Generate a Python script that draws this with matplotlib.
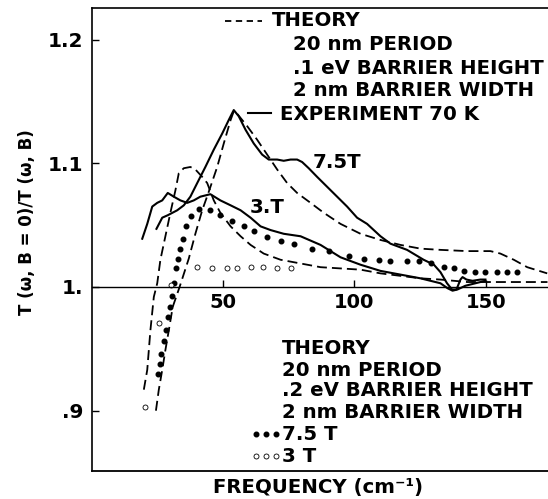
import matplotlib
matplotlib.use("Agg")
import matplotlib.pyplot as plt
from matplotlib.lines import Line2D

plt.rcParams['font.family'] = ['DejaVu Sans']
plt.rcParams['font.weight'] = 'bold'

# ---------------- data ----------------
# Experiment, 7.5 T (solid)
exp75_x = [24.7, 26.9, 29.0, 32.6, 35.1, 37.6, 40.2, 43.3, 46.5, 49.7, 52.2, 54.1,
           56.0, 58.6, 61.7, 64.9, 67.4, 70.6, 73.1, 75.7, 78.2, 80.1, 82.6, 85.8,
           89.6, 93.4, 97.2, 101.0, 104.8, 109.9, 113.7, 120.0, 126.3, 130.2, 132.7,
           135.2, 137.1, 138.8, 140.3, 141.1, 142.6, 144.9, 147.9, 149.8]
exp75_y = [1.047, 1.056, 1.058, 1.062, 1.066, 1.073, 1.084, 1.097, 1.111, 1.124, 1.135, 1.143,
           1.138, 1.127, 1.116, 1.107, 1.103, 1.103, 1.102, 1.103, 1.103, 1.101, 1.096, 1.089,
           1.081, 1.073, 1.065, 1.056, 1.051, 1.041, 1.035, 1.030, 1.022, 1.018, 1.012,
           1.003, 0.998, 0.998, 1.006, 1.008, 1.006, 1.005, 1.006, 1.006]

# Experiment, 3 T (solid)
exp3_x = [19.3, 21.2, 23.1, 25.0, 26.9, 29.0, 31.3, 33.8, 36.4, 38.9, 41.4, 45.2,
          49.0, 52.9, 56.7, 60.5, 64.3, 68.1, 73.1, 79.5, 87.1, 94.7, 102.3, 109.9,
          117.5, 125.1, 132.7, 135.4, 137.3, 139.2, 142.2, 146.0, 149.8]
exp3_y = [1.039, 1.051, 1.065, 1.068, 1.070, 1.076, 1.073, 1.070, 1.068, 1.070, 1.073, 1.075,
          1.070, 1.066, 1.062, 1.056, 1.049, 1.046, 1.043, 1.041, 1.034, 1.024, 1.018, 1.013,
          1.010, 1.007, 1.003, 0.999, 0.997, 0.998, 1.001, 1.003, 1.005]

# Theory 0.1 eV, 7.5 T (dashed)
th75_x = [24.5, 25.6, 26.9, 28.1, 29.4, 30.9, 33.5, 37.0, 39.5, 42.1, 44.6, 47.8,
          50.3, 52.9, 54.1, 55.4, 59.2, 63.0, 66.8, 70.6, 74.4, 78.2, 83.3, 88.3,
          94.7, 102.3, 109.9, 117.5, 125.1, 132.7, 142.9, 151.7, 155.5, 160.6, 165.7, 173.3]
th75_y = [0.900, 0.917, 0.933, 0.949, 0.965, 0.984, 1.000, 1.023, 1.043, 1.062, 1.077, 1.097,
          1.116, 1.135, 1.142, 1.140, 1.130, 1.119, 1.107, 1.095, 1.084, 1.076, 1.068, 1.060,
          1.051, 1.043, 1.038, 1.034, 1.031, 1.030, 1.029, 1.029, 1.027, 1.022, 1.016, 1.011]

# Theory 0.1 eV, 3 T (dashed)
th3_x = [19.9, 21.2, 22.4, 23.7, 25.0, 26.2, 28.1, 30.0, 31.9, 33.2, 35.1, 37.6,
         39.5, 42.1, 44.0, 46.5, 49.0, 52.9, 56.7, 60.5, 65.5, 71.9, 79.5, 87.1,
         94.7, 102.3, 109.9, 117.5, 125.1, 132.7, 142.9, 155.5, 173.4]
th3_y = [0.917, 0.933, 0.965, 0.992, 1.003, 1.022, 1.041, 1.060, 1.078, 1.092, 1.096, 1.097,
         1.095, 1.089, 1.084, 1.070, 1.060, 1.049, 1.041, 1.034, 1.027, 1.022, 1.019, 1.016,
         1.015, 1.014, 1.011, 1.009, 1.007, 1.006, 1.004, 1.004, 1.004]

# Theory 0.2 eV, 7.5 T (filled dots)
dot75_x = [25.2, 25.9, 26.6, 27.5, 28.3, 29.2, 29.9, 30.7, 31.2, 32.3, 33.0, 33.8,
           34.7, 36.0, 38.0, 40.8, 45.2, 49.0, 53.5, 57.9, 61.7, 66.8, 71.9, 76.9,
           83.9, 90.2, 97.8, 103.5, 109.2, 113.7, 120.0, 124.4, 129.0, 134.0, 137.8,
           141.6, 146.0, 149.8, 154.3, 158.1, 161.9]
dot75_y = [0.930, 0.938, 0.946, 0.956, 0.965, 0.976, 0.984, 0.993, 1.003, 1.015, 1.023, 1.031,
           1.039, 1.049, 1.057, 1.063, 1.062, 1.058, 1.053, 1.049, 1.045, 1.040, 1.037, 1.035,
           1.031, 1.029, 1.025, 1.023, 1.022, 1.021, 1.021, 1.021, 1.019, 1.016, 1.015,
           1.013, 1.012, 1.012, 1.012, 1.012, 1.012]

# Theory 0.2 eV, 3 T (open circles)
circ3_x = [20.3, 25.6, 30.4, 40.2, 45.9, 51.6, 55.4, 60.5, 65.3, 70.6, 75.7]
circ3_y = [0.903, 0.971, 1.002, 1.016, 1.015, 1.015, 1.015, 1.016, 1.016, 1.015, 1.015]

xticks = [50, 100, 150]
xtick_labels = ['50', '100', '150']
yticks = [0.9, 1.0, 1.1, 1.2]
ytick_labels = ['.9', '1.', '1.1', '1.2']

# ---------------- figure ----------------
W, H = 548, 499
fig = plt.figure(figsize=(W / 100, H / 100), dpi=100)
L, R, T, B = 91.5, 548, 8, 470.7
ax = fig.add_axes([L / W, 1 - B / H, (R - L) / W, (B - T) / H])
ax.set_xlim(0, 173.6)
ax.set_ylim(0.8515, 1.2255)

DASH = (5.5, 2.8)
ax.plot(exp75_x, exp75_y, color='black', lw=1.5, solid_joinstyle='round')
ax.plot(exp3_x, exp3_y, color='black', lw=1.5, solid_joinstyle='round')
ax.plot(th75_x, th75_y, color='black', lw=1.3, dashes=DASH)
ax.plot(th3_x, th3_y, color='black', lw=1.3, dashes=DASH)
ax.plot(dot75_x, dot75_y, ls='none', marker='o', ms=3.3, color='black')
ax.plot(circ3_x, circ3_y, ls='none', marker='o', ms=3.6, mfc='white', mec='black', mew=0.6)

# spines / ticks
ax.spines['right'].set_visible(False)
ax.spines['bottom'].set_position(('data', 1.0))
ax.spines['bottom'].set_linewidth(1.0)
for s in ('left', 'top'):
    ax.spines[s].set_linewidth(1.2)
ax.plot([0, 1], [0, 0], transform=ax.transAxes, color='black', lw=1.3, clip_on=False)

ax.set_xticks(xticks, labels=xtick_labels)
ax.set_yticks(yticks, labels=ytick_labels)
ax.tick_params(axis='x', direction='in', length=5, width=1, pad=4, labelsize=14)
ax.tick_params(axis='y', direction='in', length=5, width=1, pad=6, labelsize=14.5)
for lab in ax.get_xticklabels() + ax.get_yticklabels():
    lab.set_fontweight('bold')


def ftext(xp, yp, s, **kw):
    fig.text(xp / W, 1 - yp / H, s, ha=kw.pop('ha', 'left'), va=kw.pop('va', 'center'),
             fontsize=kw.pop('fontsize', 14.2), fontweight='bold', **kw)


def fline(xs, ys, **kw):
    fig.add_artist(Line2D([x / W for x in xs], [1 - y / H for y in ys],
                          transform=fig.transFigure, color='black', **kw))


# top legend block
fline([225, 262], [21, 21], lw=1.3, dashes=(3.5, 2.5))
ftext(272, 21, 'THEORY')
ftext(293, 45, '20 nm PERIOD')
ftext(293, 68, '.1 eV BARRIER HEIGHT')
ftext(293, 91, '2 nm BARRIER WIDTH')
fline([248, 271], [113, 113], lw=1.5)
ftext(280, 114, 'EXPERIMENT 70 K')

# curve labels
ftext(313, 162, '7.5T')
ftext(250, 207, '3.T')

# bottom legend block
ftext(282, 349, 'THEORY')
ftext(282, 370, '20 nm PERIOD')
ftext(282, 391, '.2 eV BARRIER HEIGHT')
ftext(282, 412, '2 nm BARRIER WIDTH')
fig.add_artist(Line2D([x / W for x in (256, 266, 276)], [1 - 434 / H] * 3,
                      transform=fig.transFigure, ls='none', marker='o', ms=3.3, color='black'))
ftext(282, 434, '7.5 T')
fig.add_artist(Line2D([x / W for x in (256, 266, 276)], [1 - 456 / H] * 3,
                      transform=fig.transFigure, ls='none', marker='o', ms=3.6,
                      mfc='white', mec='black', mew=0.6))
ftext(282, 456, '3 T')

# axis labels
ftext(318, 488, 'FREQUENCY (cm⁻¹)', ha='center')
ftext(27, 222, 'T (ω, B = 0)/T (ω, B)', ha='center', rotation=90, fontsize=12)

fig.savefig('out.png', dpi=100)
